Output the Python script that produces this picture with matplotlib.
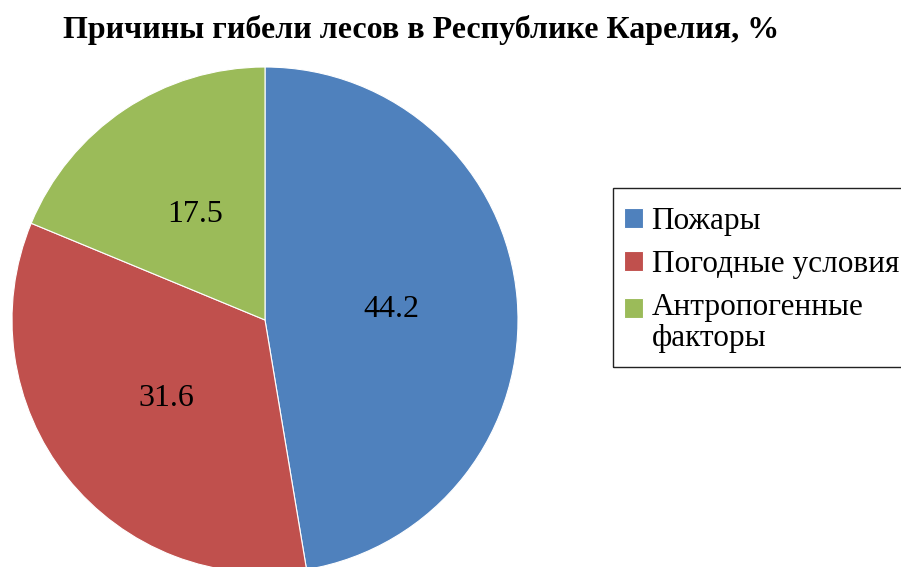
import matplotlib.pyplot as plt
from matplotlib.patches import Rectangle
from matplotlib.legend_handler import HandlerPatch

# -------- DATA ------------------------------------------------------
CATEGORIES = ["Пожары", "Погодные условия", "Антропогенные\nфакторы"]
VALUES = [44.2, 31.6, 17.5]
COLORS = ["#4F81BD", "#C0504D", "#9BBB59"]
TITLE = "Причины гибели лесов в Республике Карелия, %"
# --------------------------------------------------------------------

W, H = 901, 567
FS = 23
LEG_FS = 22.5

label_lines = {}


def top_square(legend, orig_handle, xdescent, ydescent, width, height, fontsize):
    # square sits next to the first line of a wrapped label
    n = label_lines.get(id(orig_handle), 1)
    shift = (n - 1) * fontsize * 0.47
    return Rectangle((-xdescent, -ydescent + shift), width, height)


def main():
    plt.rcParams["font.family"] = ["Liberation Serif", "DejaVu Serif"]

    fig = plt.figure(figsize=(W / 100, H / 100), dpi=100)

    # pie centre (265, 320) px, radius 253 px
    cx, cy, r = 265, 320, 253
    ax = fig.add_axes([(cx - r) / W, (H - cy - r) / H, 2 * r / W, 2 * r / H])

    total = sum(VALUES)
    wedges, _, autotexts = ax.pie(
        VALUES,
        colors=COLORS,
        startangle=90,
        counterclock=False,
        autopct=lambda p: f"{p * total / 100:.1f}",
        pctdistance=0.5,
        wedgeprops=dict(edgecolor="white", linewidth=0.8),
        textprops=dict(fontsize=FS, color="black"),
    )
    ax.set_xlim(-1, 1)
    ax.set_ylim(-1, 1)
    ax.set_aspect("auto")
    ax.axis("off")

    fig.text(421 / W, 1 - 30 / H, TITLE, ha="center", va="center",
             fontsize=FS, fontweight="bold")

    for w, c in zip(wedges, CATEGORIES):
        label_lines[id(w)] = c.count("\n") + 1
    handler = HandlerPatch(patch_func=top_square)

    # legend frame (runs past the right edge like the original)
    fig.patches.append(Rectangle((613 / W, 1 - 367 / H), 320 / W, 179 / H,
                                 transform=fig.transFigure, fill=False,
                                 edgecolor="#222222", linewidth=1.0))

    leg = fig.legend(
        wedges, CATEGORIES,
        loc="upper left",
        bbox_to_anchor=(624 / W, 1 - 207 / H),
        fontsize=LEG_FS,
        frameon=False,
        handlelength=0.62,
        handleheight=0.62,
        handletextpad=0.26,
        labelspacing=0.44,
        borderpad=0,
        borderaxespad=0,
        handler_map={w: handler for w in wedges},
    )
    for t in leg.get_texts():
        t.set_linespacing(1.13)

    fig.savefig("out.png", dpi=100)


if __name__ == "__main__":
    main()
